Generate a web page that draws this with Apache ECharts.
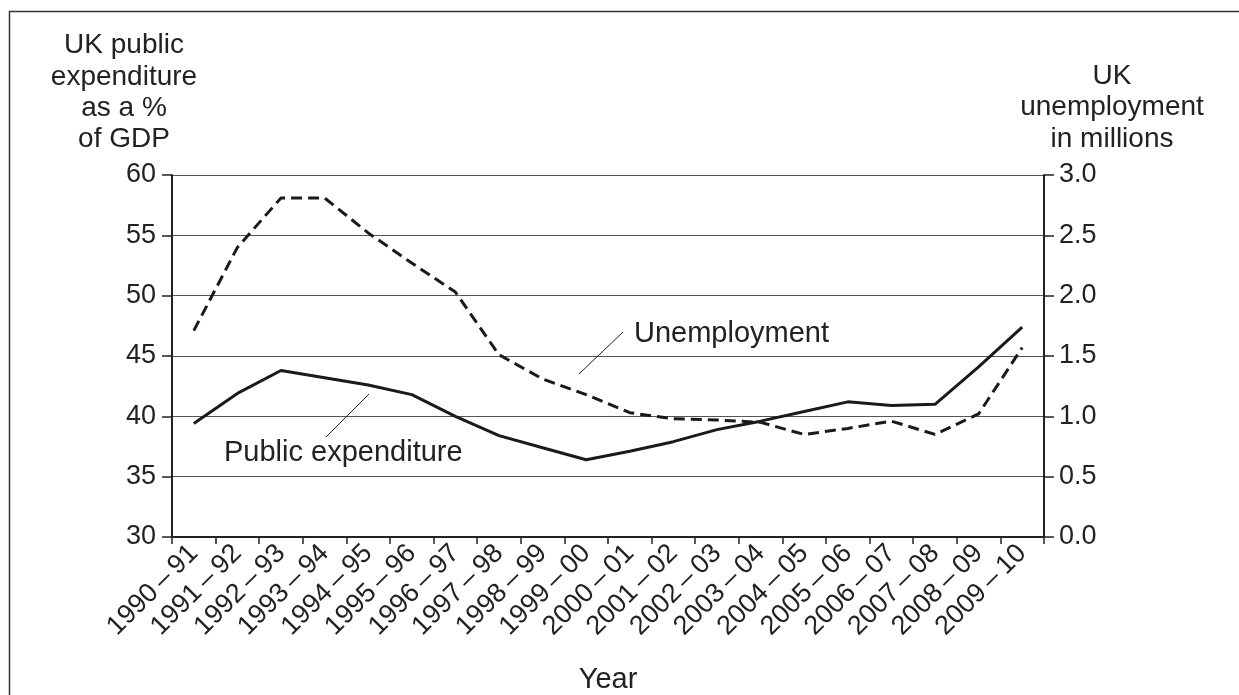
<!DOCTYPE html>
<html>
<head>
<meta charset="utf-8">
<script src="https://cdn.jsdelivr.net/npm/echarts@6/dist/echarts.min.js"></script>
<style>
html,body{margin:0;padding:0;background:#fff;}
#chart{width:1239px;height:695px;}
</style>
</head>
<body>
<div id="chart"></div>
<script>
var years = ['1990\u2009\u2013\u200991','1991\u2009\u2013\u200992','1992\u2009\u2013\u200993','1993\u2009\u2013\u200994','1994\u2009\u2013\u200995',
  '1995\u2009\u2013\u200996','1996\u2009\u2013\u200997','1997\u2009\u2013\u200998','1998\u2009\u2013\u200999','1999\u2009\u2013\u200900',
  '2000\u2009\u2013\u200901','2001\u2009\u2013\u200902','2002\u2009\u2013\u200903','2003\u2009\u2013\u200904','2004\u2009\u2013\u200905',
  '2005\u2009\u2013\u200906','2006\u2009\u2013\u200907','2007\u2009\u2013\u200908','2008\u2009\u2013\u200909','2009\u2009\u2013\u200910'];
var publicExpenditure = [39.4, 41.9, 43.8, 43.2, 42.6, 41.8, 40.0, 38.4, 37.4, 36.4,
                         37.1, 37.9, 38.9, 39.6, 40.4, 41.2, 40.9, 41.0, 44.1, 47.4];
var unemployment = [1.71, 2.40, 2.81, 2.81, 2.52, 2.27, 2.03, 1.51, 1.31, 1.18,
                    1.03, 0.98, 0.97, 0.95, 0.85, 0.90, 0.96, 0.85, 1.02, 1.57];
var leftTicks = {min: 30, max: 60, interval: 5};
var rightTicks = {min: 0, max: 3, interval: 0.5};

var FONT = '"Liberation Sans", Arial, sans-serif';
var TXT = '#222';
var chart = echarts.init(document.getElementById('chart'), null, {renderer: 'canvas'});

function txt(x, y, s, align, size) {
  return {type: 'text', x: x, y: y, z: 10,
    style: {text: s, fill: TXT, font: (size || 28) + 'px ' + FONT, textAlign: align || 'center', textVerticalAlign: 'middle'}};
}

var option = {
  animation: false,
  backgroundColor: '#fff',
  grid: {left: 172, right: 195, top: 175, bottom: 158, containLabel: false, outerBoundsMode: 'none'},
  xAxis: {
    type: 'category', data: years, boundaryGap: true,
    name: 'Year', nameLocation: 'middle', nameGap: 128,
    nameTextStyle: {color: TXT, fontSize: 29, fontFamily: FONT},
    axisLine: {lineStyle: {color: '#222', width: 2}},
    axisTick: {show: true, length: 7, lineStyle: {color: '#222', width: 1.5}},
    axisLabel: {rotate: 45, interval: 0, margin: 12, color: TXT, fontSize: 27, fontFamily: FONT}
  },
  yAxis: [{
    type: 'value', min: leftTicks.min, max: leftTicks.max, interval: leftTicks.interval,
    axisLine: {show: true, lineStyle: {color: '#222', width: 2}},
    axisTick: {show: true, length: 10, lineStyle: {color: '#222', width: 1.5}},
    axisLabel: {margin: 16, color: TXT, fontSize: 27, fontFamily: FONT},
    splitLine: {show: true, lineStyle: {color: '#555', width: 1}}
  }, {
    type: 'value', position: 'right', min: rightTicks.min, max: rightTicks.max, interval: rightTicks.interval,
    axisLine: {show: true, lineStyle: {color: '#222', width: 2}},
    axisTick: {show: true, length: 10, lineStyle: {color: '#222', width: 1.5}},
    axisLabel: {margin: 15, color: TXT, fontSize: 27, fontFamily: FONT, formatter: function (v) { return v.toFixed(1); }},
    splitLine: {show: false}
  }],
  series: [{
    name: 'Public expenditure', type: 'line', yAxisIndex: 0, data: publicExpenditure,
    symbol: 'none', lineStyle: {color: '#1a1a1a', width: 3}, z: 5
  }, {
    name: 'Unemployment', type: 'line', yAxisIndex: 1, data: unemployment,
    symbol: 'none', lineStyle: {color: '#1a1a1a', width: 3, type: [11, 6]}, z: 5
  }],
  graphic: [
    {type: 'rect', z: 0, shape: {x: 9.5, y: 11.5, width: 1400, height: 1000}, style: {fill: 'none', stroke: '#333', lineWidth: 1.5}},
    txt(124, 45, 'UK public'),
    txt(124, 77, 'expenditure'),
    txt(124, 108, 'as a %'),
    txt(124, 139, 'of GDP'),
    txt(1112, 76, 'UK'),
    txt(1112, 107, 'unemployment'),
    txt(1112, 139, 'in millions'),
    txt(634, 334, 'Unemployment', 'left', 29),
    txt(224, 453, 'Public expenditure', 'left', 29),
    {type: 'line', z: 10, shape: {x1: 579, y1: 374, x2: 623, y2: 332}, style: {stroke: '#222', lineWidth: 1}},
    {type: 'line', z: 10, shape: {x1: 326, y1: 437, x2: 369, y2: 394}, style: {stroke: '#222', lineWidth: 1}}
  ]
};
chart.setOption(option);
</script>
</body>
</html>
